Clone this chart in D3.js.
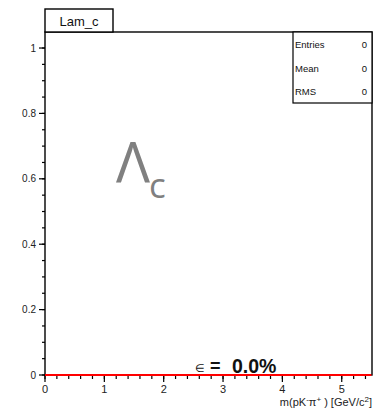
<!DOCTYPE html>
<html>
<head>
<meta charset="utf-8">
<script src="https://cdn.jsdelivr.net/npm/d3@7"></script>
<style>
  html, body { margin: 0; padding: 0; background: #fff; }
  svg { display: block; font-family: "Liberation Sans", Arial, sans-serif; }
</style>
</head>
<body>
<div id="chart"></div>
<script>
// histogram content (empty: no entries)
const binLow = [0];
const binHigh = [5.5];
const binCounts = [0];

const xTicks = [0, 1, 2, 3, 4, 5];
const yTicks = [0, 0.2, 0.4, 0.6, 0.8, 1];
const yTickLabels = ['0', '0.2', '0.4', '0.6', '0.8', '1'];

const statNames = ['Entries', 'Mean', 'RMS'];
const statValues = ['0', '0', '0'];

const histTitle = 'Lam_c';
const effText = '0.0%';

const width = 374, height = 410;
const frame = { left: 45, top: 32, right: 372, bottom: 375 };

const svg = d3.select('#chart').append('svg')
    .attr('width', width)
    .attr('height', height);

const x = d3.scaleLinear().domain([0, 5.51]).range([frame.left, frame.right]);
const y = d3.scaleLinear().domain([0, 1.049]).range([frame.bottom, frame.top]);

// frame
svg.append('rect')
    .attr('x', frame.left).attr('y', frame.top)
    .attr('width', frame.right - frame.left)
    .attr('height', frame.bottom - frame.top)
    .attr('fill', 'none').attr('stroke', '#000').attr('stroke-width', 1.4);

// y axis: major + minor ticks
const yMinor = d3.range(0, 1.049, 0.05);
svg.append('g').selectAll('line').data(yMinor).join('line')
    .attr('x1', frame.left - 3).attr('x2', frame.left)
    .attr('y1', d => y(d)).attr('y2', d => y(d))
    .attr('stroke', '#000').attr('stroke-width', 1.2);
svg.append('g').selectAll('line').data(yTicks).join('line')
    .attr('x1', frame.left - 6).attr('x2', frame.left)
    .attr('y1', d => y(d)).attr('y2', d => y(d))
    .attr('stroke', '#000').attr('stroke-width', 1.2);
svg.append('g').selectAll('text').data(yTicks).join('text')
    .attr('x', 36).attr('y', d => y(d) + 3.5)
    .attr('text-anchor', 'end')
    .attr('font-size', 10).attr('fill', '#222')
    .text((d, i) => yTickLabels[i]);

// x axis: major + minor ticks
const xMinor = d3.range(0, 5.5, 0.2);
svg.append('g').selectAll('line').data(xMinor).join('line')
    .attr('x1', d => x(d)).attr('x2', d => x(d))
    .attr('y1', frame.bottom).attr('y2', frame.bottom + 4)
    .attr('stroke', '#000').attr('stroke-width', 1.2);
svg.append('g').selectAll('line').data(xTicks).join('line')
    .attr('x1', d => x(d)).attr('x2', d => x(d))
    .attr('y1', frame.bottom).attr('y2', frame.bottom + 7)
    .attr('stroke', '#000').attr('stroke-width', 1.2);
svg.append('g').selectAll('text').data(xTicks).join('text')
    .attr('x', d => x(d)).attr('y', 393)
    .attr('text-anchor', 'middle')
    .attr('font-size', 11).attr('fill', '#222')
    .text(d => d);

// axis title
const xt = svg.append('text')
    .attr('x', 372).attr('y', 406)
    .attr('text-anchor', 'end')
    .attr('font-size', 11).attr('fill', '#222');
xt.append('tspan').text('m(pK');
xt.append('tspan').attr('dy', -4).attr('font-size', 8).text('-');
xt.append('tspan').attr('dy', 4).text('\u03c0');
xt.append('tspan').attr('dy', -4).attr('font-size', 8).text('+');
xt.append('tspan').attr('dy', 4).text(' ) [GeV/c');
xt.append('tspan').attr('dy', -4).attr('font-size', 8).text('2');
xt.append('tspan').attr('dy', 4).text(']');

// histogram (red)
const line = d3.line().x(d => x(d[0])).y(d => y(d[1])).curve(d3.curveLinear);
const pts = [];
binCounts.forEach((c, i) => { pts.push([binLow[i], c]); pts.push([binHigh[i], c]); });
svg.append('path')
    .attr('d', line(pts))
    .attr('fill', 'none').attr('stroke', '#ff0000').attr('stroke-width', 2);

// title box
svg.append('rect')
    .attr('x', 45).attr('y', 9).attr('width', 68).attr('height', 23)
    .attr('fill', '#fff').attr('stroke', '#000').attr('stroke-width', 1.4);
svg.append('text')
    .attr('x', 79).attr('y', 25.5)
    .attr('text-anchor', 'middle')
    .attr('font-size', 13).attr('fill', '#111')
    .text(histTitle);

// stats box
svg.append('rect')
    .attr('x', 293).attr('y', 32).attr('width', 79).attr('height', 71)
    .attr('fill', '#fff').attr('stroke', '#000').attr('stroke-width', 1.2);
const statY = [48, 72, 95];
svg.append('g').selectAll('text').data(statNames).join('text')
    .attr('x', 295).attr('y', (d, i) => statY[i])
    .attr('font-size', 9.5).attr('fill', '#111')
    .text(d => d);
svg.append('g').selectAll('text').data(statValues).join('text')
    .attr('x', 367).attr('y', (d, i) => statY[i])
    .attr('text-anchor', 'end')
    .attr('font-size', 9.5).attr('fill', '#111')
    .text(d => d);

// Lambda_c label
svg.append('text')
    .attr('x', 116).attr('y', 183)
    .attr('font-family', '"Open Sans", "Noto Sans", sans-serif')
    .attr('font-size', 57)
    .attr('textLength', 34).attr('lengthAdjust', 'spacingAndGlyphs')
    .attr('fill', '#808080')
    .text('\u039b');
svg.append('text')
    .attr('x', 149).attr('y', 198)
    .attr('font-family', '"Open Sans", "Noto Sans", sans-serif')
    .attr('font-size', 35)
    .attr('fill', '#808080')
    .text('c');

// efficiency
svg.append('text')
    .attr('x', 195).attr('y', 372)
    .attr('font-size', 11).attr('fill', '#111')
    .text('\u2208');
svg.append('text')
    .attr('x', 210).attr('y', 372)
    .attr('font-size', 18).attr('font-weight', 'bold').attr('fill', '#111')
    .text('=');
svg.append('text')
    .attr('x', 232).attr('y', 372.5)
    .attr('font-size', 19.5).attr('font-weight', 'bold').attr('fill', '#111')
    .text(effText);
</script>
</body>
</html>
